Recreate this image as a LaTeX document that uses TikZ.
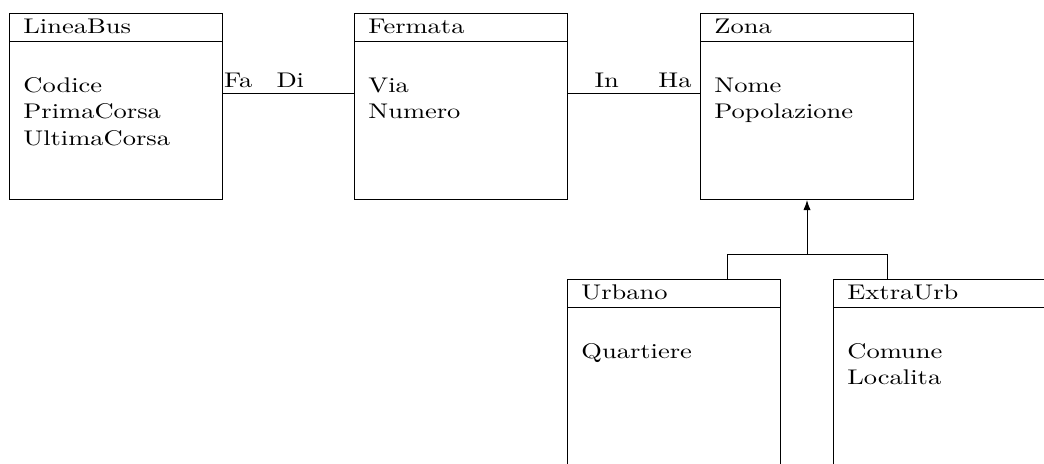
\documentclass[tikz,border=0pt]{standalone}
\usepackage{fontspec}
\usetikzlibrary{calc,arrows.meta}
\newcommand\vsq[1]{\scalebox{1.325}[1.06]{#1}}
\tikzset{
  cls/.style={draw, line width=0.5pt, minimum width=106.5pt, minimum height=93pt, inner sep=0pt, anchor=north west},
  txt/.style={inner sep=0pt, anchor=base west, font=\fontsize{10}{12}\selectfont},
  conn/.style={line width=0.5pt},
  tip/.style={-{Latex[length=5pt,width=3.6pt]}},
}
\begin{document}
\begin{tikzpicture}[x=0.5pt,y=-0.5pt]
\useasboundingbox (0,0) rectangle (1044,463);
\clip (0,0) rectangle (1044,463);

% LineaBus
\node[cls] (lb) at (9,13) {};
\draw[conn] ($(lb.north west)+(0,28)$) -- ($(lb.north east)+(0,28)$);
\node[txt] (lbt) at ($(lb.north west)+(14,20)$) {\vsq{LineaBus}};
\node[txt] (lba1) at ($(lb.north west)+(14,79)$) {\vsq{Codice}};
\node[txt] (lba2) at ($(lb.north west)+(14,105.5)$) {\vsq{PrimaCorsa}};
\node[txt] (lba3) at ($(lb.north west)+(14,132)$) {\vsq{UltimaCorsa}};

% Fermata
\node[cls] (fe) at (354,13) {};
\draw[conn] ($(fe.north west)+(0,28)$) -- ($(fe.north east)+(0,28)$);
\node[txt] (fet) at ($(fe.north west)+(14,20)$) {\vsq{Fermata}};
\node[txt] (fea1) at ($(fe.north west)+(14,79)$) {\vsq{Via}};
\node[txt] (fea2) at ($(fe.north west)+(14,105.5)$) {\vsq{Numero}};

% Zona
\node[cls] (zo) at (700,13) {};
\draw[conn] ($(zo.north west)+(0,28)$) -- ($(zo.north east)+(0,28)$);
\node[txt] (zot) at ($(zo.north west)+(14,20)$) {\vsq{Zona}};
\node[txt] (zoa1) at ($(zo.north west)+(14,79)$) {\vsq{Nome}};
\node[txt] (zoa2) at ($(zo.north west)+(14,105.5)$) {\vsq{Popolazione}};

% Urbano
\node[cls] (ur) at (567,279) {};
\draw[conn] ($(ur.north west)+(0,28)$) -- ($(ur.north east)+(0,28)$);
\node[txt] (urt) at ($(ur.north west)+(14,20)$) {\vsq{Urbano}};
\node[txt] (ura1) at ($(ur.north west)+(14,79)$) {\vsq{Quartiere}};

% ExtraUrb
\node[cls] (ex) at (833,279) {};
\draw[conn] ($(ex.north west)+(0,28)$) -- ($(ex.north east)+(0,28)$);
\node[txt] (ext) at ($(ex.north west)+(14,20)$) {\vsq{ExtraUrb}};
\node[txt] (exa1) at ($(ex.north west)+(14,79)$) {\vsq{Comune}};
\node[txt] (exa2) at ($(ex.north west)+(14,105.5)$) {\vsq{Localita}};

% associations
\draw[conn] ($(lb.north east)+(0,80.5)$) -- ($(fe.north west)+(0,80.5)$)
  node[txt, at start, xshift=0.3pt, yshift=3.25pt] (fa) {\vsq{Fa}}
  node[txt, at start, xshift=26.5pt, yshift=3.25pt] (di) {\vsq{Di}};
\draw[conn] ($(fe.north east)+(0,80.5)$) -- ($(zo.north west)+(0,80.5)$)
  node[txt, at start, xshift=13pt, yshift=3.25pt] (in) {\vsq{In}}
  node[txt, at end, anchor=base east, xshift=-4pt, yshift=3.25pt] (ha) {\vsq{Ha}};

% generalization
\coordinate (j) at ($(zo.south)+(0,54)$);
\draw[conn, tip] (j) -- (zo.south);
\draw[conn] ($(ur.north west)+(160,0)$) |- (j) -| ($(ex.north west)+(54,0)$);
\end{tikzpicture}
\end{document}
